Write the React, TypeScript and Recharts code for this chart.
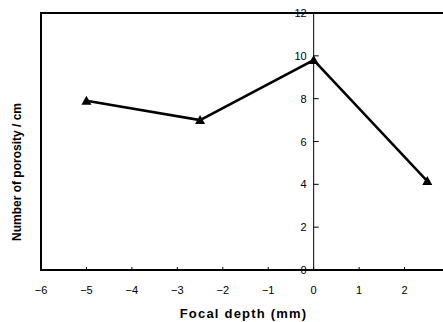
import {
  Label,
  Line,
  LineChart,
  ReferenceArea,
  ReferenceDot,
  ReferenceLine,
  XAxis,
  YAxis,
} from "recharts";

const depths = [-5, -2.5, 0, 2.5];
const porosity = [7.9, 7.0, 9.8, 4.15];
const xTicks = [-6, -5, -4, -3, -2, -1, 0, 1, 2];
const yTicks = [0, 2, 4, 6, 8, 10, 12];

const chartData = depths.map((x, i) => ({ x, y: porosity[i] }));

const FONT = "'Liberation Sans', Arial, sans-serif";

const fmt = (v: number) => (v < 0 ? "\u2212" + Math.abs(v) : String(v));

function XTick(props: any) {
  const { x, y, payload } = props;
  return (
    <g>
      {payload.value > -6 && <line x1={x} x2={x} y1={y} y2={y - 3} stroke="#000" strokeWidth={1} />}
      <text x={x} y={y + 24} textAnchor="middle" fontSize={11} fontFamily={FONT} fill="#000">
        {fmt(payload.value)}
      </text>
    </g>
  );
}

function YTick(props: any) {
  const { cx, cy, value } = props;
  return (
    <g>
      {value > 0 && value < 12 && <line x1={cx} x2={cx + 5} y1={cy} y2={cy} stroke="#000" strokeWidth={1} />}
      <text x={cx - 7} y={cy + 4} textAnchor="end" fontSize={11} fontFamily={FONT} fill="#000">
        {value}
      </text>
    </g>
  );
}

function Triangle(props: any) {
  const { cx, cy } = props;
  if (cx == null || cy == null) return null;
  return (
    <polygon
      points={`${cx},${cy - 5} ${cx - 5},${cy + 4} ${cx + 5},${cy + 4}`}
      fill="#000"
    />
  );
}

export default function App() {
  return (
    <div style={{ position: "absolute", left: 0, top: 0, width: 443, height: 322, overflow: "hidden", background: "#fff" }}>
      <LineChart width={470} height={322} data={chartData} margin={{ top: 13, right: 20, bottom: 0, left: 0 }}>
        <XAxis
          type="number"
          dataKey="x"
          domain={[-6, 3]}
          ticks={xTicks}
          interval={0}
          axisLine={false}
          tickLine={false}
          tickSize={0}
          tickMargin={0}
          tick={<XTick />}
          height={52}
        >
          <Label
            value="Focal depth (mm)"
            position="insideBottom"
            offset={4}
            dx={-2}
            style={{ fontFamily: FONT, fontSize: 13, fontWeight: "bold", letterSpacing: 1.2, fill: "#000" }}
          />
        </XAxis>
        <YAxis
          type="number"
          domain={[0, 12]}
          ticks={yTicks}
          width={41}
          axisLine={false}
          tickLine={false}
          tick={false}
        >
          <Label
            content={() => (
              <text
                transform="translate(21,172) rotate(-90)"
                textAnchor="middle"
                fontFamily={FONT}
                fontSize={12}
                fontWeight="bold"
                fill="#000"
              >
                Number of porosity / cm
              </text>
            )}
          />
        </YAxis>
        <ReferenceArea x1={-6} x2={3} y1={0} y2={12} fill="none" stroke="#000" strokeWidth={2} ifOverflow="visible" />
        <ReferenceLine x={0} stroke="#000" strokeWidth={1} />
        {yTicks.map((v) => (
          <ReferenceDot
            key={v}
            x={0}
            y={v}
            r={0}
            ifOverflow="visible"
            shape={(p: any) => <YTick {...p} value={v} />}
          />
        ))}
        <Line
          dataKey="y"
          stroke="#000"
          strokeWidth={2.5}
          dot={<Triangle />}
          activeDot={false}
          isAnimationActive={false}
        />
      </LineChart>
    </div>
  );
}
